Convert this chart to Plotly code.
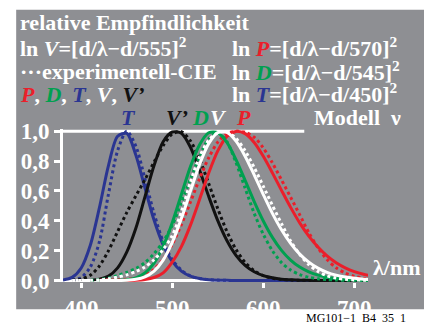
import plotly.graph_objects as go

# ---------------- data ----------------
wavelength = [380, 390, 400, 410, 420, 430, 440, 450, 460, 470, 480, 490, 500,
              510, 520, 530, 540, 550, 560, 570, 580, 590, 600, 610, 620, 630,
              640, 650, 660, 670, 680, 690, 700, 710, 720]

T_model = [0.004, 0.021, 0.084, 0.236, 0.488, 0.772, 0.966, 0.985, 0.84, 0.62, 0.405, 0.239, 0.128,
           0.063, 0.029, 0.013, 0.005, 0.002, 0.001, 0, 0, 0, 0, 0, 0, 0,
           0, 0, 0, 0, 0, 0, 0, 0, 0]
T_exp = [None, 0.003, 0.02, 0.09, 0.26, 0.58, 0.87, 1.0, 0.90, 0.68, 0.45, 0.26, 0.14,
         0.07, 0.03, 0.014, 0.006, 0.003, 0.001, 0.0005, 0, 0, 0, 0, 0, 0,
         0, 0, 0, 0, 0, 0, 0, 0, 0]

Vs_model = [None, None, None, 0.002, 0.009, 0.03, 0.085, 0.19, 0.35, 0.56, 0.77, 0.93, 0.995,
            0.987, 0.893, 0.738, 0.564, 0.401, 0.268, 0.169, 0.102, 0.059, 0.033, 0.018, 0.009, 0.005,
            0.002, 0.001, 0, 0, 0, 0, 0, 0, 0]
Vs_exp = [None, 0.002, 0.009, 0.035, 0.097, 0.2, 0.328, 0.455, 0.567, 0.676, 0.793, 0.904, 0.982,
          0.997, 0.935, 0.811, 0.65, 0.481, 0.329, 0.208, 0.121, 0.066, 0.033, 0.016, 0.007, 0.003,
          0.0015, 0.0007, 0.0003, 0, 0, 0, 0, 0, 0]

D_model = [None, None, None, None, 0.00002, 0.0002, 0.0013, 0.0054, 0.018, 0.051, 0.117, 0.228, 0.387,
           0.576, 0.763, 0.91, 0.99, 0.991, 0.925, 0.81, 0.671, 0.529, 0.399, 0.289, 0.202, 0.137,
           0.09, 0.058, 0.036, 0.022, 0.013, 0.008, 0.005, 0.003, 0.002]
D_exp = [None, None, None, 0.002, 0.006, 0.016, 0.034, 0.055, 0.08, 0.12, 0.18, 0.26, 0.37,
         0.52, 0.68, 0.83, 0.95, 0.99, 0.93, 0.79, 0.62, 0.45, 0.31, 0.2, 0.12, 0.07,
         0.04, 0.022, 0.012, 0.006, 0.003, 0.0015, 0.0008, 0.0004, 0.0002]

V_model = [None, None, None, None, 0.00001, 0.0001, 0.0004, 0.002, 0.008, 0.025, 0.063, 0.137, 0.255,
           0.415, 0.599, 0.778, 0.917, 0.991, 0.992, 0.934, 0.833, 0.708, 0.576, 0.45, 0.34, 0.249,
           0.177, 0.123, 0.083, 0.055, 0.036, 0.023, 0.015, 0.009, 0.006]
V_exp = [None, 0.0001, 0.0004, 0.0012, 0.004, 0.0116, 0.023, 0.038, 0.06, 0.091, 0.139, 0.208, 0.30,
         0.46, 0.66, 0.83, 0.94, 0.99, 0.995, 0.952, 0.87, 0.757, 0.631, 0.503, 0.381, 0.265,
         0.175, 0.107, 0.061, 0.032, 0.017, 0.0082, 0.0041, 0.0021, 0.001]

P_model = [None, None, None, None, None, 0.00001, 0.00007, 0.0004, 0.0018, 0.0067, 0.02, 0.051, 0.123,
           0.227, 0.371, 0.543, 0.719, 0.868, 0.966, 0.999, 0.984, 0.925, 0.832, 0.721, 0.604, 0.49,
           0.386, 0.297, 0.224, 0.165, 0.119, 0.085, 0.06, 0.042, 0.029]
P_exp = [None, None, None, None, 0.002, 0.003, 0.005, 0.008, 0.016, 0.036, 0.075, 0.142, 0.242,
         0.374, 0.526, 0.682, 0.822, 0.927, 0.984, 1.0, 0.993, 0.96, 0.888, 0.788, 0.674, 0.558,
         0.44, 0.32, 0.22, 0.14, 0.085, 0.05, 0.028, 0.015, 0.008]

x_tickvals = [400, 500, 600, 700]
x_ticktext = ["400", "500", "600", "700"]
y_tickvals = [0.0, 0.2, 0.4, 0.6, 0.8, 1.0]
y_ticktext = ["0,0", "0,2", "0,4", "0,6", "0,8", "1,0"]

# ---------------- style ----------------
BLUE = "#2a3592"
RED = "#ea1f2b"
GREEN = "#00a050"
BLACK = "#111111"
WHITE = "#ffffff"
GRAY = "#8e8f93"
FONT = "Liberation Serif"

# plot area in pixels
L, RPX = 62.8, 367.65
TPX, BPX = 128.75, 282.5
W, H = RPX - L, BPX - TPX


def pxx(px):
    return (px - L) / W


def pxy(py):
    return (BPX - py) / H


fig = go.Figure()

series = [
    (T_exp, BLUE, "dot"), (T_model, BLUE, "solid"),
    (Vs_exp, BLACK, "dot"), (Vs_model, BLACK, "solid"),
    (P_exp, RED, "dot"), (P_model, RED, "solid"),
    (D_exp, GREEN, "dot"), (D_model, GREEN, "solid"),
    (V_exp, WHITE, "dot"), (V_model, WHITE, "solid"),
]
for vals, col, dash in series:
    fig.add_trace(go.Scatter(
        x=wavelength, y=vals, mode="lines",
        line=dict(color=col, width=3, dash=("3px,3px" if dash == "dot" else "solid"),
                  shape="spline", smoothing=0.8),
        hoverinfo="skip", showlegend=False))

shapes = [
    dict(type="rect", xref="paper", yref="paper", x0=pxx(16), x1=pxx(426), y0=pxy(310), y1=pxy(9),
         fillcolor=GRAY, line=dict(width=0), layer="below"),
    dict(type="line", xref="x", yref="y", x0=380, x1=715, y0=0, y1=0,
         line=dict(color=WHITE, width=3), layer="below"),
    dict(type="line", xref="x", yref="y", x0=380, x1=645, y0=1.0, y1=1.0,
         line=dict(color=WHITE, width=3), layer="below"),
]

ann = []


def add_text(text, px, py, size=22, color=WHITE, xanchor="left"):
    ann.append(dict(text=text, x=pxx(px), y=pxy(py), xref="paper", yref="paper",
                    showarrow=False, xanchor=xanchor, yanchor="middle",
                    font=dict(family=FONT, size=size, color=color)))


def c(col, t):
    return "<span style='color:%s'><i>%s</i></span>" % (col, t)


add_text("<b>relative Empfindlichkeit</b>", 18, 22)
add_text("<b>ln <i>V</i>=[d/λ−d/555]<sup>2</sup></b>", 18, 46)
add_text("<b>ln " + c(RED, "P") + "=[d/λ−d/570]<sup>2</sup></b>", 230, 46)
add_text("<b>···experimentell-CIE</b>", 18, 71)
add_text("<b>ln " + c(GREEN, "D") + "=[d/λ−d/545]<sup>2</sup></b>", 230, 70)
add_text("<b>" + c(RED, "P") + ", " + c(GREEN, "D") + ", " + c(BLUE, "T") + ", "
         + c(WHITE, "V") + ", " + c(BLACK, "V’") + "</b>", 18, 94)
add_text("<b>ln " + c(BLUE, "T") + "=[d/λ−d/450]<sup>2</sup></b>", 230, 93)
add_text("<b><i>T</i></b>", 128, 117, color=BLUE, xanchor="center")
add_text("<b><i>V’</i></b>", 177, 117, color=BLACK, xanchor="center")
add_text("<b><i>D</i></b>", 200, 117, color=GREEN, xanchor="center")
add_text("<b><i>V</i></b>", 218, 117, color=WHITE, xanchor="center")
add_text("<b><i>P</i></b>", 243, 117, color=RED, xanchor="center")
add_text("<b>Modell\u00a0\u00a0ν</b>", 403, 117, xanchor="right")
add_text("<b>λ/nm</b>", 371, 268)
add_text("MG101−1_B4_35_1", 304, 319, size=12, color="#000000")

tickfont = dict(family=FONT, size=23, color=WHITE)

fig.update_layout(
    width=424, height=323,
    margin=dict(l=L, r=424 - RPX, t=TPX, b=323 - BPX, pad=0, autoexpand=False),
    paper_bgcolor="#ffffff", plot_bgcolor="rgba(0,0,0,0)",
    shapes=shapes, annotations=ann, showlegend=False,
    xaxis=dict(range=[380, 715], tickvals=x_tickvals,
               ticktext=["<b>%s</b>" % t for t in x_ticktext],
               ticks="outside", ticklen=5, tickwidth=3, tickcolor=WHITE, automargin=False,
               showgrid=False, zeroline=False, showline=False, tickfont=tickfont),
    yaxis=dict(range=[-0.01, 1.015], tickvals=y_tickvals,
               ticktext=["<b>%s</b>" % t for t in y_ticktext],
               ticks="outside", ticklen=6, tickwidth=3, tickcolor=WHITE, automargin=False,
               showgrid=False, zeroline=False, showline=True, linecolor=WHITE, linewidth=3,
               tickfont=tickfont),
)

fig.write_html("out.html")
